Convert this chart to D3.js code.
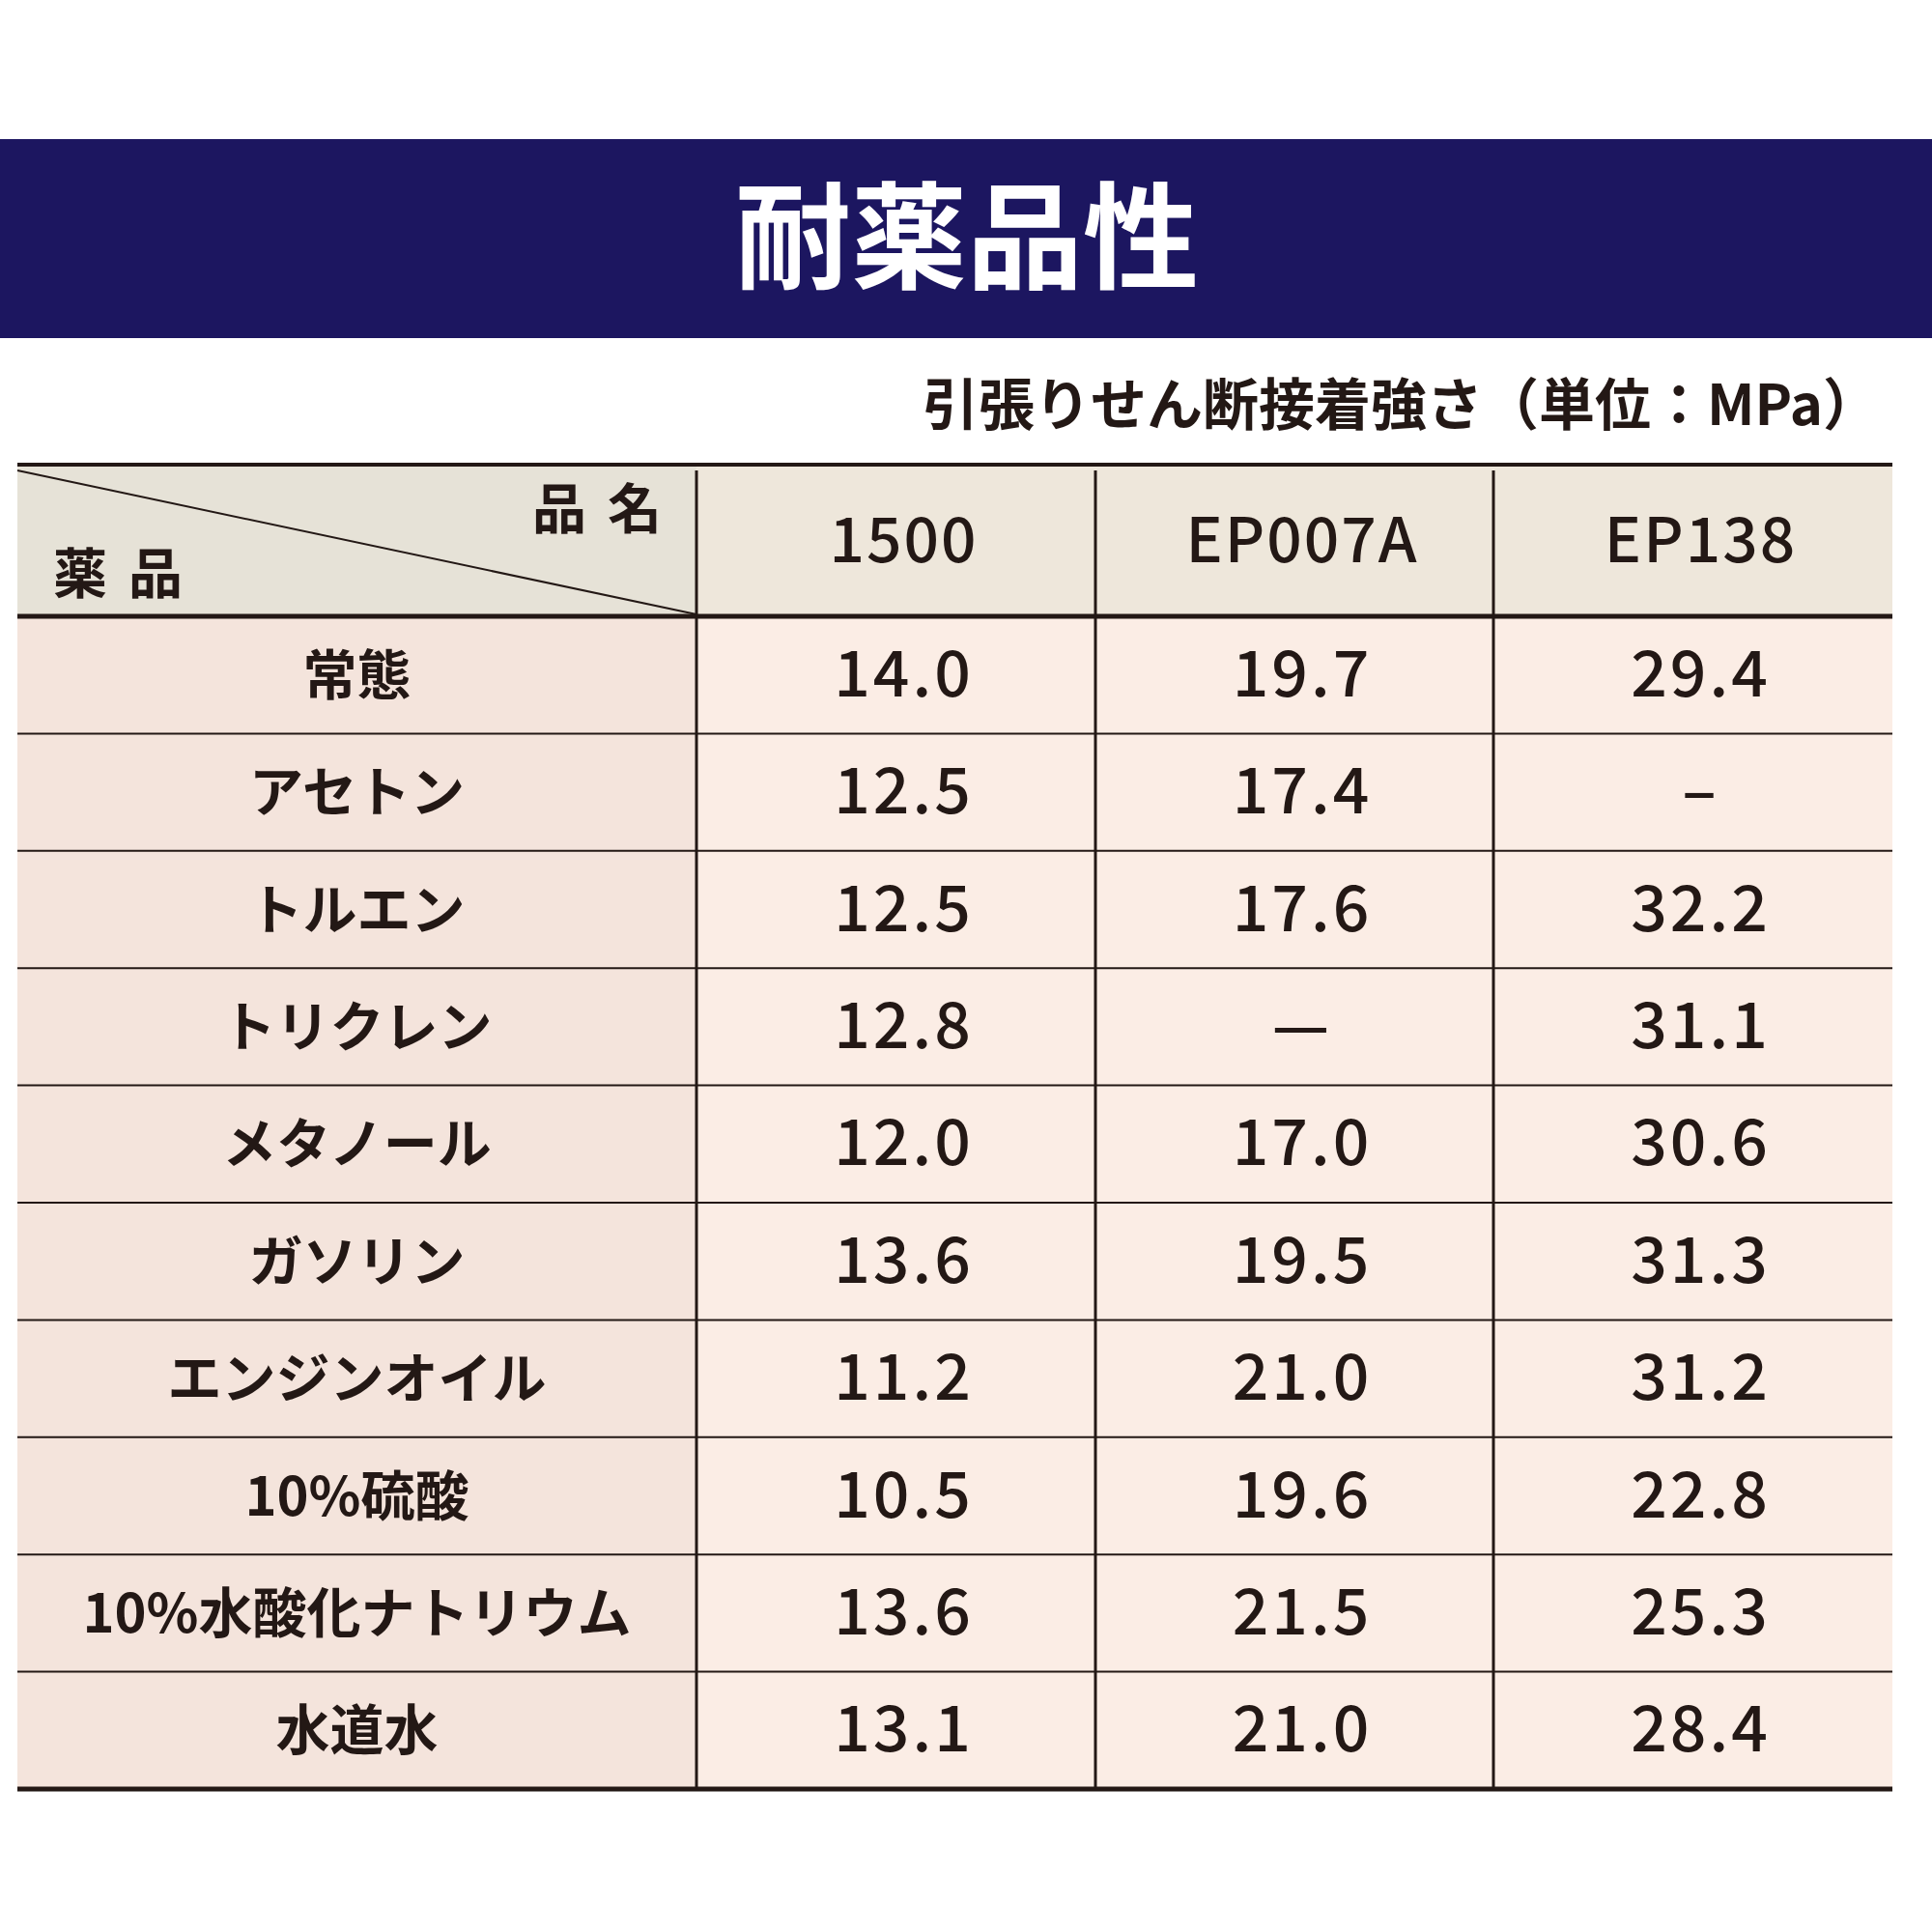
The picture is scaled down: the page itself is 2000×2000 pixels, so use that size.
<!DOCTYPE html>
<html><head><meta charset="utf-8">
<script src="https://cdn.jsdelivr.net/npm/d3@7"></script>
<style>body{margin:0;background:#fff}</style></head>
<body><svg id="c" width="2000" height="2000"></svg>
<script>
const title = "耐薬品性";
const unitLabel = "引張りせん断接着強さ（単位：MPa）";
const products = ["1500", "EP007A", "EP138"];
const chemicals = ["常態","アセトン","トルエン","トリクレン","メタノール","ガソリン","エンジンオイル","10%硫酸","10%水酸化ナトリウム","水道水"];
const v1500 = ["14.0","12.5","12.5","12.8","12.0","13.6","11.2","10.5","13.6","13.1"];
const vEP007A = ["19.7","17.4","17.6","—","17.0","19.5","21.0","19.6","21.5","21.0"];
const vEP138 = ["29.4","–","32.2","31.1","30.6","31.3","31.2","22.8","25.3","28.4"];
const series = [v1500, vEP007A, vEP138];

const svg = d3.select("#c");
const F = "'Noto Sans CJK JP', sans-serif";
const ink = "#231815";
svg.append("rect").attr("x",0).attr("y",144).attr("width",2000).attr("height",206).attr("fill","#1c1660");
svg.append("text").attr("x",1001).attr("y",290).attr("text-anchor","middle").attr("font-family",F).attr("font-weight",700).attr("font-size",120).attr("fill","#fff").text(title);
svg.append("text").attr("x",1945).attr("y",440).attr("text-anchor","end").attr("font-family",F).attr("font-weight",700).attr("font-size",58).attr("fill",ink).text(unitLabel);

const L=18, R=1959, T=481, HB=638, B=1852;
const colEdges=[L,721,1134,1546,R];
const y = d3.scaleBand().domain(chemicals).range([HB,B]);
svg.append("rect").attr("x",L).attr("y",T).attr("width",721-L).attr("height",HB-T).attr("fill","#e6e2d7");
svg.append("rect").attr("x",721).attr("y",T).attr("width",R-721).attr("height",HB-T).attr("fill","#eee7db");
svg.append("rect").attr("x",L).attr("y",HB).attr("width",721-L).attr("height",B-HB).attr("fill","#f4e4dc");
svg.append("rect").attr("x",721).attr("y",HB).attr("width",R-721).attr("height",B-HB).attr("fill","#fbede5");
svg.append("line").attr("x1",L).attr("x2",721).attr("y1",487).attr("y2",636).attr("stroke",ink).attr("stroke-width",2);
chemicals.slice(1).forEach(c=>svg.append("line").attr("x1",L).attr("x2",R).attr("y1",y(c)).attr("y2",y(c)).attr("stroke",ink).attr("stroke-width",2));
[721,1134,1546].forEach(x=>svg.append("line").attr("x1",x).attr("x2",x).attr("y1",487).attr("y2",B).attr("stroke",ink).attr("stroke-width",3));
svg.append("line").attr("x1",L).attr("x2",R).attr("y1",T).attr("y2",T).attr("stroke",ink).attr("stroke-width",4);
svg.append("line").attr("x1",L).attr("x2",R).attr("y1",HB).attr("y2",HB).attr("stroke",ink).attr("stroke-width",5);
svg.append("line").attr("x1",L).attr("x2",R).attr("y1",B).attr("y2",B).attr("stroke",ink).attr("stroke-width",5);
svg.append("text").attr("x",707).attr("y",547).attr("text-anchor","end").attr("font-family",F).attr("font-weight",700).attr("font-size",56).attr("fill",ink).attr("letter-spacing",22).text("品名");
svg.append("text").attr("x",55).attr("y",614).attr("font-family",F).attr("font-weight",700).attr("font-size",56).attr("fill",ink).attr("letter-spacing",22).text("薬品");
products.forEach((p,i)=>svg.append("text").attr("x",(colEdges[i+1]+colEdges[i+2])/2+8).attr("y",582).attr("text-anchor","middle").attr("font-family",F).attr("font-weight",500).attr("font-size",64).attr("letter-spacing",2).attr("fill",ink).text(p));
chemicals.forEach((c,r)=>{
  const cy=y(c)+y.bandwidth()/2+22;
  svg.append("text").attr("x",(L+721)/2).attr("y",cy-2).attr("text-anchor","middle").attr("font-family",F).attr("font-weight",700).attr("font-size",56).attr("fill",ink).text(c);
  series.forEach((s,i)=>svg.append("text").attr("x",(colEdges[i+1]+colEdges[i+2])/2+8).attr("y",cy).attr("text-anchor","middle").attr("font-family",F).attr("font-weight",500).attr("font-size",66).attr("letter-spacing",3).attr("fill",ink).text(s[r]));
});
</script></body></html>
